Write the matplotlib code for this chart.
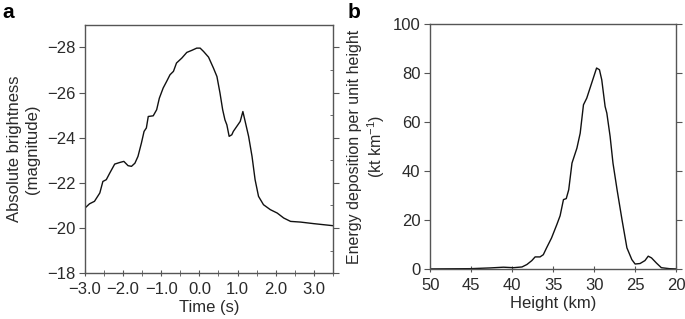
import numpy as np
import matplotlib.pyplot as plt
from matplotlib.ticker import MultipleLocator

plt.rcParams['font.family'] = ['Liberation Sans', 'DejaVu Sans']

# panel a: light curve
time_s = [-3.0, -2.88, -2.75, -2.61, -2.53, -2.44, -2.35, -2.22, -2.09, -1.98,
          -1.87, -1.78, -1.69, -1.61, -1.52, -1.45, -1.39, -1.34, -1.21, -1.12,
          -1.05, -0.95, -0.86, -0.77, -0.68, -0.60, -0.46, -0.33, -0.20, -0.07,
          0.02, 0.11, 0.24, 0.37, 0.46, 0.54, 0.61, 0.67, 0.72, 0.78,
          0.85, 0.89, 0.98, 1.07, 1.14, 1.20, 1.29, 1.38, 1.46, 1.55,
          1.68, 1.86, 2.04, 2.21, 2.39, 2.65, 3.0, 3.5]
brightness = [-20.88, -21.07, -21.18, -21.55, -22.06, -22.14, -22.43, -22.83, -22.90, -22.95,
              -22.76, -22.73, -22.87, -23.17, -23.76, -24.28, -24.43, -24.94, -24.97, -25.24,
              -25.75, -26.20, -26.49, -26.79, -26.94, -27.31, -27.53, -27.78, -27.87, -27.97,
              -27.97, -27.82, -27.57, -27.08, -26.71, -25.98, -25.24, -24.79, -24.57, -24.06,
              -24.13, -24.28, -24.50, -24.72, -25.16, -24.72, -24.06, -23.17, -22.14, -21.40,
              -21.03, -20.81, -20.66, -20.44, -20.29, -20.26, -20.19, -20.10]

# panel b: energy deposition vs height
height_km = [50, 45.1, 42.7, 41.06, 39.84, 38.8, 38.2, 37.6, 37.2, 36.6,
             36.2, 35.8, 35.2, 34.55, 34.15, 33.74, 33.4, 33.1, 32.7, 32.1,
             31.7, 31.3, 30.9, 30.5, 30.1, 29.7, 29.35, 29.07, 28.66, 28.45,
             28.05, 27.7, 27.2, 26.6, 26.0, 25.4, 25.0, 24.4, 23.8, 23.4,
             23.0, 22.4, 21.8, 20.8, 20]
energy = [0, 0.1, 0.4, 0.7, 0.5, 0.8, 1.8, 3.4, 4.9, 4.9,
          5.8, 8.6, 12.6, 18.1, 21.7, 28.3, 28.7, 32.3, 43.2, 49.3,
          55.4, 67.0, 69.7, 73.8, 77.9, 82.0, 81.3, 77.2, 66.3, 63.6,
          54.1, 43.2, 32.3, 20.1, 8.6, 3.8, 2.0, 2.2, 3.4, 5.2,
          4.5, 2.4, 0.5, 0.1, 0]

spine_col = '#555555'
text_col = '#2a2a2a'
fs = 12

fig = plt.figure(figsize=(6.85, 3.19), dpi=100)
ax1 = fig.add_axes([0.124, 0.144, 0.362, 0.778])
ax2 = fig.add_axes([0.628, 0.157, 0.359, 0.768])

for ax in (ax1, ax2):
    for s in ax.spines.values():
        s.set_color(spine_col)
        s.set_linewidth(1.0)
    ax.tick_params(labelcolor=text_col, labelsize=fs, width=0.8, pad=3)

# a
ax1.plot(time_s, brightness, color='#111111', lw=1.0)
ax1.set_xlim(-3.0, 3.5)
ax1.set_ylim(-18, -29)
ax1.set_xticks(np.arange(-3, 3.01, 1.0))
ax1.set_xticklabels(['\u22123.0', '\u22122.0', '\u22121.0', '0.0', '1.0', '2.0', '3.0'])
ax1.set_yticks(np.arange(-28, -17, 2))
ax1.set_yticklabels(['\u221228', '\u221226', '\u221224', '\u221222', '\u221220', '\u221218'])
ax1.xaxis.set_minor_locator(MultipleLocator(0.5))
ax1.yaxis.set_minor_locator(MultipleLocator(1))
ax1.tick_params(axis='x', which='both', direction='inout', length=5, color=spine_col, pad=4)
ax1.tick_params(axis='y', which='major', left=True, right=True, direction='out', length=4, color=spine_col)
ax1.tick_params(axis='y', which='minor', left=False, right=True, direction='in', length=2.5, color=spine_col)
ax1.set_xlabel('Time (s)', fontsize=fs, labelpad=2, color=text_col)
ax1.set_ylabel('Absolute brightness\n(magnitude)', fontsize=fs, labelpad=5, color=text_col)
fig.text(0.004, 0.962, 'a', fontsize=15, fontweight='bold', va='center')

# b
ax2.plot(height_km, energy, color='#111111', lw=1.0)
ax2.set_xlim(50, 20)
ax2.set_ylim(0, 100)
ax2.set_xticks(np.arange(50, 19, -5))
ax2.set_yticks(np.arange(0, 101, 20))
ax2.tick_params(axis='x', direction='inout', length=5, color=spine_col, pad=4)
ax2.tick_params(axis='y', left=True, right=True, direction='out', length=4, color=spine_col)
ax2.set_xlabel('Height (km)', fontsize=fs, labelpad=2, color=text_col)
ax2.set_ylabel('Energy deposition per unit height\n(kt km$^{\\mathregular{-1}}$)', fontsize=11.5,
               labelpad=4, color=text_col)
fig.text(0.508, 0.962, 'b', fontsize=15, fontweight='bold', va='center')

fig.savefig('out.png', dpi=100)
